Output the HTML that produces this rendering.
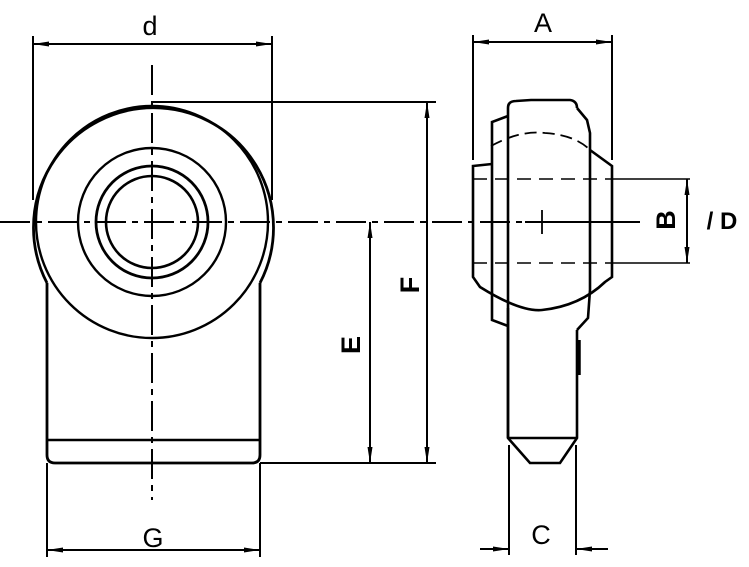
<!DOCTYPE html>
<html><head><style>html,body{margin:0;padding:0;background:#fff}svg{display:block}</style></head><body>
<svg width="749" height="567" viewBox="0 0 749 567" xmlns="http://www.w3.org/2000/svg" font-family="Liberation Sans, sans-serif">
<defs>
<marker id="a" viewBox="0 0 16 6" refX="16" refY="3" markerWidth="16" markerHeight="6" markerUnits="userSpaceOnUse" orient="auto-start-reverse"><path d="M0,0.5 L16,3 L0,5.5 Z" fill="#000"/></marker>
</defs>
<g stroke="#000" fill="none" stroke-width="2.6">
<line x1="0" y1="222" x2="640" y2="222" stroke-dasharray="30,6,6,6" stroke-width="2"/>
<line x1="152" y1="65" x2="152" y2="500" stroke-dasharray="30,6,6,6" stroke-width="2"/>
<path d="M47,283 A120,120 0 1 1 260,283" stroke-width="2.8"/>
<circle cx="152" cy="222" r="116" stroke-width="2.4"/>
<circle cx="152" cy="222" r="74" stroke-width="2.4"/>
<circle cx="152" cy="222" r="56" stroke-width="2.8"/>
<circle cx="152" cy="222" r="46" stroke-width="2.6"/>
<path d="M47,283 V455 Q47,463 55,463 H252 Q260,463 260,455 V283" stroke-width="2.8"/>
<line x1="47" y1="440" x2="260" y2="440"/>
<line x1="33" y1="36" x2="33" y2="200" stroke-width="2"/>
<line x1="272" y1="36" x2="272" y2="200" stroke-width="2"/>
<line x1="33" y1="44" x2="272" y2="44" stroke-width="2" marker-start="url(#a)" marker-end="url(#a)"/>
<line x1="152" y1="102" x2="436" y2="102" stroke-width="2"/>
<line x1="260" y1="463" x2="436" y2="463" stroke-width="2"/>
<line x1="427" y1="102" x2="427" y2="463" stroke-width="2" marker-start="url(#a)" marker-end="url(#a)"/>
<line x1="370" y1="222" x2="370" y2="463" stroke-width="2" marker-start="url(#a)" marker-end="url(#a)"/>
<line x1="47" y1="463" x2="47" y2="557" stroke-width="2"/>
<line x1="260" y1="463" x2="260" y2="557" stroke-width="2"/>
<line x1="47" y1="550" x2="260" y2="550" stroke-width="2" marker-start="url(#a)" marker-end="url(#a)"/>
<path d="M508,438 V108 Q508,101 516,101 L531,100 L570,100 Q577,101 577,108" />
<path d="M508,116 L492,122 V320 L508,326" />
<path d="M577,108 L587,120 L590,133 V290 L588,318 L577,330" />
<path d="M492,164 L473,166 V277 L480,287 Q520,312 542,310 Q580,306 605,282 L612,277 V166 L590,150" />
<path d="M491,146 Q520,130 545,133 Q575,135 590,150" stroke-dasharray="12,6" stroke-width="1.8"/>
<line x1="473" y1="179" x2="612" y2="179" stroke-width="1.6" stroke-dasharray="14,8"/>
<line x1="473" y1="263" x2="612" y2="263" stroke-width="1.6" stroke-dasharray="14,8"/>
<line x1="612" y1="179" x2="690" y2="179" stroke-width="1.6"/>
<line x1="612" y1="263" x2="690" y2="263" stroke-width="1.6"/>
<line x1="542" y1="210" x2="542" y2="234" stroke-width="1.8"/>
<line x1="525" y1="222" x2="640" y2="222" stroke-width="2"/>
<path d="M508,308 V438 L530,463 H560 L577,438 V330" />
<line x1="508" y1="438" x2="577" y2="438"/>
<line x1="579" y1="340" x2="579" y2="375" stroke-width="3.5"/>
<line x1="687" y1="179" x2="687" y2="263" stroke-width="2" marker-start="url(#a)" marker-end="url(#a)"/>
<line x1="473" y1="35" x2="473" y2="160" stroke-width="2"/>
<line x1="612" y1="35" x2="612" y2="160" stroke-width="2"/>
<line x1="473" y1="42" x2="612" y2="42" stroke-width="2" marker-start="url(#a)" marker-end="url(#a)"/>
<line x1="509" y1="445" x2="509" y2="555" stroke-width="2"/>
<line x1="576" y1="445" x2="576" y2="555" stroke-width="2"/>
<line x1="480" y1="549" x2="509" y2="549" stroke-width="2" marker-end="url(#a)"/>
<line x1="608" y1="549" x2="576" y2="549" stroke-width="2" marker-end="url(#a)"/>
</g>
<g font-size="27" fill="#000" text-anchor="middle">
<text x="150" y="35">d</text>
<text x="543" y="32">A</text>
<text x="153" y="547">G</text>
<text x="541" y="544">C</text>
<text transform="translate(360,345) rotate(-90)" font-weight="bold">E</text>
<text transform="translate(419,285) rotate(-90)" font-weight="bold">F</text>
<text transform="translate(675,220) rotate(-90)" font-weight="bold">B</text>
<text x="722" y="229" font-weight="bold" font-size="24">/ D</text>
</g>
</svg>
</body></html>
